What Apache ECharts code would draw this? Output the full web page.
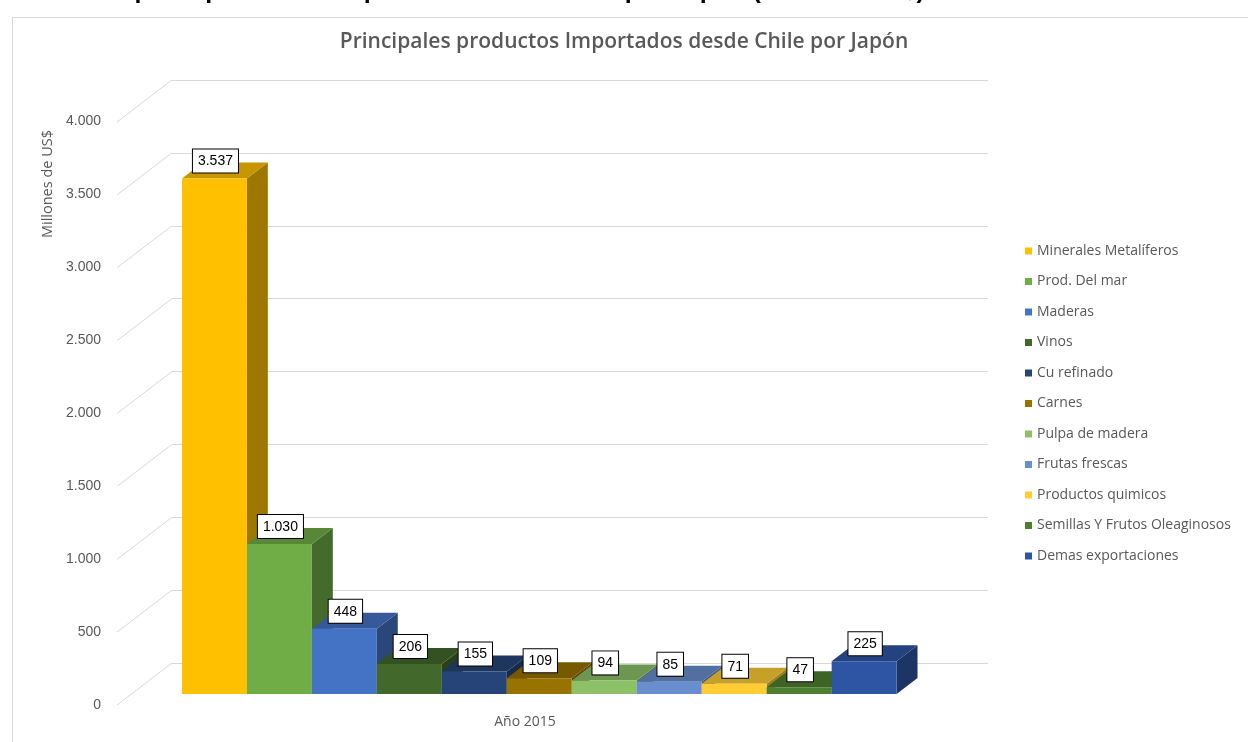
<!DOCTYPE html>
<html>
<head>
<meta charset="utf-8">
<script src="https://cdn.jsdelivr.net/npm/echarts@6/dist/echarts.min.js"></script>
<style>
  html, body { margin: 0; padding: 0; background: #fff; }
  #myChart { width: 1248px; height: 742px; }
</style>
</head>
<body>
<div id="myChart"></div>
<script type="text/javascript">

  // data
  var products = ["Minerales Metalíferos", "Prod. Del mar", "Maderas", "Vinos", "Cu refinado", "Carnes",
    "Pulpa de madera", "Frutas frescas", "Productos quimicos", "Semillas Y Frutos Oleaginosos", "Demas exportaciones"];
  var values = [3537, 1030, 448, 206, 155, 109, 94, 85, 71, 47, 225];
  var category = ["Año 2015"];
  var yTicks = [0, 500, 1000, 1500, 2000, 2500, 3000, 3500, 4000];

  var colors = ["#FFC000", "#70AD47", "#4472C4", "#43682B", "#264478", "#997300",
    "#8CC168", "#698ED0", "#FFCD33", "#4E7F30", "#2D55A3"];

  var textColor = "#595959";
  var gridColor = "#D9D9D9";
  var font = "Liberation Sans";
  var font2 = "Open Sans";

  // 3d look: floor depth, bar front and bar depth (pixels)
  var FLOOR = [55, -42];
  var FRONT = [-40.7, 31.1];
  var DEPTH = [20.9, -16];
  var XMIN = -0.78, XMAX = 11.78;

  function fmt(v) {
    return String(v).replace(/\B(?=(\d{3})+(?!\d))/g, ".");
  }

  function shade(hex, k) {
    var n = parseInt(hex.slice(1), 16);
    var r = Math.round(((n >> 16) & 255) * k);
    var g = Math.round(((n >> 8) & 255) * k);
    var b = Math.round((n & 255) * k);
    return "rgb(" + r + "," + g + "," + b + ")";
  }

  function renderBar(params, api) {
    var i = api.value(0);
    var v = api.value(1);
    var p0 = api.coord([i, 0]);
    var p1 = api.coord([i + 1, v]);
    var x0 = p0[0] + FRONT[0], x1 = p1[0] + FRONT[0];
    var yb = p0[1] + FRONT[1], yt = p1[1] + FRONT[1];
    var dx = DEPTH[0], dy = DEPTH[1];
    var c = colors[i];
    return {
      type: "group",
      children: [
        {
          type: "polygon",
          shape: { points: [[x1, yt], [x1 + dx, yt + dy], [x1 + dx, yb + dy], [x1, yb]] },
          style: { fill: shade(c, 0.62) }
        },
        {
          type: "polygon",
          shape: { points: [[x0, yt], [x0 + dx, yt + dy], [x1 + dx, yt + dy], [x1, yt]] },
          style: { fill: shade(c, 0.78) }
        },
        {
          type: "rect",
          shape: { x: x0, y: yt, width: x1 - x0, height: yb - yt },
          style: { fill: c }
        },
        {
          type: "text",
          z2: 100,
          style: {
            text: fmt(v),
            x: (x0 + x1) / 2 + 1,
            y: yt - 6,
            align: "center",
            verticalAlign: "bottom",
            fill: "#000",
            font: "14px " + font,
            backgroundColor: "#fff",
            borderColor: "#000",
            borderWidth: 1,
            padding: [5, 5, 4, 5]
          }
        }
      ]
    };
  }

  function renderGridDiag(params, api) {
    var p = api.coord([XMIN, api.value(0)]);
    return {
      type: "line",
      shape: { x1: p[0], y1: p[1], x2: p[0] - FLOOR[0], y2: p[1] - FLOOR[1] },
      style: { stroke: gridColor, lineWidth: 1 }
    };
  }

  var chartDom = document.getElementById("myChart");
  var myChart = echarts.init(chartDom);

  var series = [{
    type: "custom",
    name: "grid",
    xAxisIndex: 0,
    yAxisIndex: 0,
    silent: true,
    z: 1,
    data: yTicks.map(function (t) { return [t]; }),
    encode: { y: 0 },
    renderItem: renderGridDiag
  }];

  products.forEach(function (name, i) {
    series.push({
      type: "custom",
      name: name,
      xAxisIndex: 0,
      yAxisIndex: 0,
      itemStyle: { color: colors[i] },
      data: [[i, values[i]]],
      encode: { x: 0, y: 1 },
      renderItem: renderBar
    });
  });

  var option = {
    backgroundColor: "#fff",
    animation: false,
    textStyle: { fontFamily: font },
    graphic: [
      {
        type: "rect",
        z: -10,
        shape: { x: 12.5, y: 17.5, width: 1300, height: 800 },
        style: { fill: "#fff", stroke: gridColor, lineWidth: 1 }
      },
      {
        type: "text",
        left: 65,
        top: -21,
        style: {
          text: "Principales productos importados desde Chile por Japón (Millones US$)",
          font: "bold 25px " + font,
          fill: "#000"
        }
      },
      {
        type: "text",
        left: 40,
        top: 130,
        rotation: Math.PI / 2,
        style: {
          text: "Millones de US$",
          font: "14.5px '" + font2 + "'",
          fill: textColor
        }
      }
    ],
    title: {
      text: "Principales productos Importados desde Chile por Japón",
      left: "center",
      top: 27,
      textStyle: { color: textColor, fontSize: 21, fontWeight: 600, fontFamily: font2 }
    },
    legend: {
      orient: "vertical",
      left: 1020,
      top: 239,
      itemWidth: 7,
      itemHeight: 7,
      itemGap: 16.5,
      icon: "rect",
      data: products,
      textStyle: { color: textColor, fontSize: 14, fontFamily: font2 }
    },
    grid: [
      { left: 172, right: 260, top: 80, bottom: 79 },
      { left: 117, right: 315, top: 121, bottom: 37 }
    ],
    xAxis: [
      { gridIndex: 0, type: "value", min: XMIN, max: XMAX, show: false },
      {
        gridIndex: 1,
        type: "category",
        data: category,
        axisLine: { show: false },
        axisTick: { show: false },
        axisLabel: { color: textColor, fontSize: 14, margin: 10, fontFamily: font2 }
      }
    ],
    yAxis: [
      {
        gridIndex: 0,
        type: "value",
        min: 0,
        max: 4000,
        interval: 500,
        axisLine: { show: false },
        axisTick: { show: false },
        axisLabel: { show: false },
        splitLine: { lineStyle: { color: gridColor } }
      },
      {
        gridIndex: 1,
        type: "value",
        min: 0,
        max: 4000,
        interval: 500,
        axisLine: { show: false },
        axisTick: { show: false },
        splitLine: { show: false },
        axisLabel: { color: textColor, fontSize: 14, margin: 16, formatter: fmt }
      }
    ],
    series: series
  };

  option && myChart.setOption(option);
</script>
</body>
</html>
